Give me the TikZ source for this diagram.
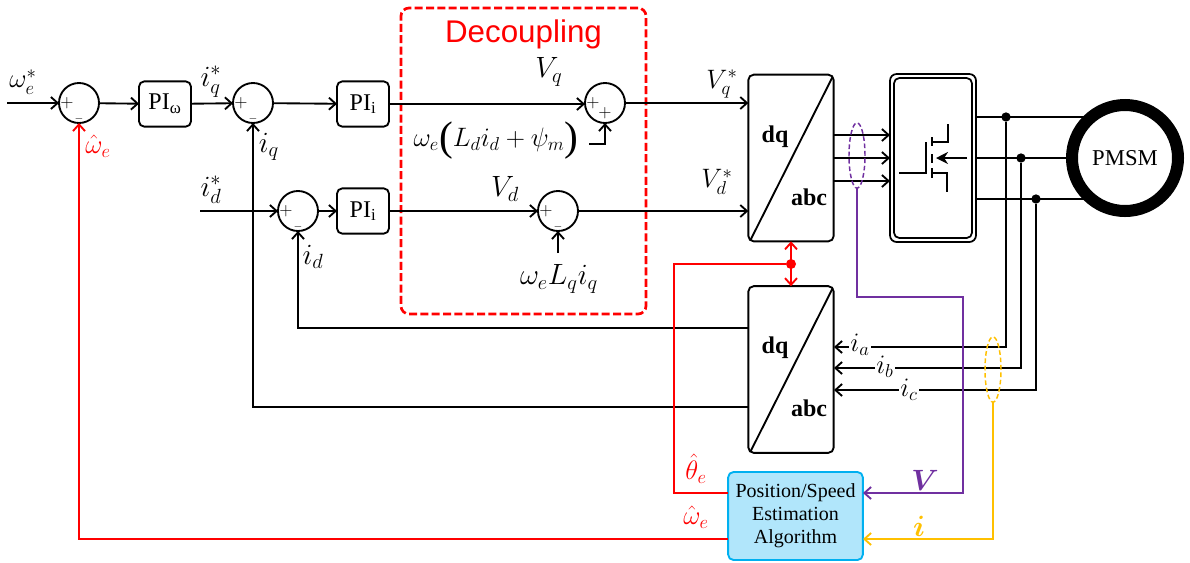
\documentclass[tikz,border=0pt]{standalone}
\usepackage{fix-cm}
\usepackage{fontspec}
\setmainfont{Liberation Serif}
\newfontfamily\decofont{Liberation Sans}
\usetikzlibrary{positioning,shapes.geometric,arrows.meta}
\definecolor{purp}{HTML}{7030A0}
\definecolor{yell}{HTML}{FFC000}
\definecolor{skyline}{HTML}{00B0F0}
\definecolor{skyfill}{HTML}{B1E6FB}
\newcommand{\fsize}[1]{\fontsize{#1}{#1}\selectfont}
\newcommand{\tallparen}[1]{\raisebox{-3pt}{\fsize{31}#1}}
\tikzset{
    >={Straight Barb[length=5pt,width=9pt,line width=1.4pt]},
    line/.style = { line width=1.4pt, },
    arrow/.style = { ->,line width=1.4pt, },
    redline/.style = { line width=1.1pt,red, },
    purpline/.style = { line width=1.1pt,purp, },
    yellline/.style = { line width=1.1pt,yell, },
    summer/.style = { circle,draw,line width=1.4pt,minimum size=30pt,inner sep=0,outer sep=0, },
    sign/.style = { inner sep=0,font=\fsize{13}, },
    pibox/.style = { draw,line width=1.4pt,rounded corners=4pt,minimum width=39pt,minimum height=34pt,inner sep=0,outer sep=0,font=\fsize{18}, },
    convbox/.style = { draw,line width=1.4pt,rounded corners=4pt,minimum width=64pt,minimum height=125pt,inner sep=0,outer sep=0, },
    conv/.style = { inner sep=0,font=\fsize{18}\bfseries, },
    write/.style = { inner sep=0,font=\fsize{20}, },
    big/.style = { inner sep=0,font=\fsize{22}, },
    wee/.style = { inner sep=0,font=\fsize{20}, },
    junction/.style = { circle,fill,inner sep=0,minimum size=7pt, },
    loopel/.style = { ellipse,draw,dash pattern=on 3.5pt off 2pt,line width=1.1pt,minimum width=12pt,minimum height=49pt,inner sep=0,outer sep=0, },
}
\newcommand{\sumblock}[4]{
    \node [summer] (#1) at (#2) {};
    \node [sign,xshift=-9pt] (#1p) at (#1) {$+$};
    \node [sign,#4] (#1m) at (#1) {#3};
}
\begin{document}
\begin{tikzpicture}[x=0.75pt,y=-0.75pt]

    \useasboundingbox (0,0) rectangle (1190,562);

    \node [draw=red,dash pattern=on 6pt off 2.5pt,line width=2pt,rounded corners=6pt,minimum width=183.75pt,minimum height=229.5pt] (decouple) at (523.5,161) {};
    \node [text=red,inner sep=0,font=\fsize{23.5}\decofont] (decoupletxt) at (523.5,34) {Decoupling};

    % summing points
    \sumblock{sumw}{79,103}{$-$}{yshift=-11.5pt,font=\fsize{8}}
    \sumblock{sumq}{253,103}{$-$}{yshift=-11.5pt,font=\fsize{8}}
    \sumblock{sumd}{298,211}{$-$}{yshift=-11.5pt,font=\fsize{8}}
    \sumblock{sumvq}{605,103}{$+$}{yshift=-7.5pt}
    \sumblock{sumvd}{558,211}{$-$}{yshift=-11.5pt,font=\fsize{8}}

    \node [pibox] (piw) at (165,104) {PI\textsubscript{ω}};
    \node [pibox] (piq) at (363,104) {PI\textsubscript{i}};
    \node [pibox] (pid) at (363,211) {PI\textsubscript{i}};

    \node [convbox] (dqa) at (791,158) {};
    \draw [line] (dqa.south west) ++(2,-1) -- ([shift={(-1,2)}]dqa.north east);
    \node [conv] (dqatop) at (775,137) {dq};
    \node [conv] (dqabot) at (809,197) {abc};

    \node [convbox] (dqb) at (791,369.5) {};
    \draw [line] (dqb.south west) ++(2,-1) -- ([shift={(-1,2)}]dqb.north east);
    \node [conv] (dqbtop) at (775,348) {dq};
    \node [conv] (dqbbot) at (809,408) {abc};

    % inverter
    \node [draw,line width=1.3pt,rounded corners=5pt,minimum width=64.5pt,minimum height=126pt,outer sep=0] (inv) at (933,158) {};
    \node [draw,line width=1.3pt,rounded corners=4pt,minimum width=58.5pt,minimum height=120pt] (invin) at (933,158) {};
    \draw [line] (899,173) -- (926,173) -- (926,142);
    \draw [line,line width=1.7pt] (932,137) -- (932,146);
    \draw [line,line width=1.7pt] (932,154) -- (932,163);
    \draw [line,line width=1.7pt] (932,168) -- (932,178);
    \draw [line] (932,142) -- (948,142) -- (948,124);
    \draw [line] (932,173) -- (947,173) -- (947,192);
    \draw [line,-{Stealth[length=9pt,width=9pt]}] (967,158) -- (936,158);

    \node [circle,draw,line width=9pt,minimum size=79.5pt,inner sep=0,outer sep=0,font=\fsize{17}] (pmsm) at (1125,158) {PMSM};

    \node [draw=skyline,fill=skyfill,line width=1.4pt,rounded corners=4pt,minimum width=101pt,minimum height=66pt,inner sep=0,outer sep=0,align=center,font=\fontsize{15}{17.3}\selectfont] (est) at (795.5,516) {Position/Speed\\Estimation\\Algorithm};

    \coordinate (wref) at (7,103);
    \coordinate (idref) at (200,211);
    \coordinate (qterm) at (589,144);
    \coordinate (dterm) at (558,253);
    \coordinate (ga) at (834,135);
    \coordinate (gb) at (834,158);
    \coordinate (gc) at (834,181);
    \coordinate (ia) at (834,347);
    \coordinate (ib) at (834,368);
    \coordinate (ic) at (834,390);
    \coordinate (feedd) at (748,328);
    \coordinate (feedq) at (748,407);
    \coordinate (estth) at (728,493);
    \coordinate (estom) at (728,539);
    \coordinate (estv) at (863,493);
    \coordinate (esti) at (863,539);

    % forward path
    \draw [arrow] (wref) -- (sumw);
    \draw [arrow] (sumw) -- (piw);
    \draw [arrow] (piw) -- (sumq);
    \draw [arrow] (sumq) -- (piq);
    \draw [arrow] (idref) -- (sumd);
    \draw [arrow] (sumd) -- (pid);
    \draw [arrow] (piq.east) -- (piq.east -| sumvq.west);
    \draw [arrow] (pid) -- (sumvd);
    \draw [arrow] (qterm) -| (sumvq.south);
    \draw [arrow] (dterm) -- (sumvd.south);
    \draw [arrow,line width=1.1pt] (sumvq.east) -- (sumvq.east -| dqa.west);
    \draw [arrow,line width=1.1pt] (sumvd.east) -- (sumvd.east -| dqa.west);
    \draw [arrow] (ga) -- (ga -| inv.west);
    \draw [arrow] (gb) -- (gb -| inv.west);
    \draw [arrow] (gc) -- (gc -| inv.west);

    % motor phases
    \draw [line] (pmsm.129 -| inv.east) -- (pmsm.129);
    \draw [line] (inv.east) -- (pmsm.west);
    \draw [line] (pmsm.231 -| inv.east) -- (pmsm.231);
    \node [junction] (ja) at (1006,117) {};
    \node [junction] (jb) at (1021,158) {};
    \node [junction] (jc) at (1036,199) {};
    \draw [arrow] (ja) |- (ia);
    \draw [arrow] (jb) |- (ib);
    \draw [arrow] (jc) |- (ic);

    % current feedback
    \draw [arrow] (feedd) -| (sumd.south);
    \draw [arrow] (feedq) -| (sumq.south);

    % estimator signals
    \node [loopel,draw=purp] (vloop) at (857,155.5) {};
    \node [loopel,draw=yell] (iloop) at (993,369.5) {};
    \draw [purpline,->] (vloop.south) |- (963,297) |- (estv);
    \draw [yellline,->] (iloop.south) |- (esti);
    \node [junction,red,minimum size=7.5pt] (jred) at (791,264) {};
    \draw [redline] (estth) -- (674,493) |- (jred);
    \draw [redline,<->,line width=1.3pt] (dqa.south) -- (dqb.north);
    \draw [redline,->,line width=1.4pt] (estom) -| (sumw.south);

    % labels
    \node [write] (lwref) at (23,82) {$\omega_e^{*}$};
    \node [big] (liq) at (211,82) {$i_q^{*}$};
    \node [big] (lid) at (211,190) {$i_d^{*}$};
    \node [big] (lfq) at (269,147) {$i_q$};
    \node [big] (lfd) at (313,257) {$i_d$};
    \node [big] (lvq) at (549,72) {$V_q$};
    \node [big] (lvd) at (505,189) {$V_d$};
    \node [write] (lvqs) at (722,84) {$V_q^{*}$};
    \node [write] (lvds) at (717,182) {$V_d^{*}$};
    \node [write] (lqterm) at (496,141) {$\omega_e\tallparen{(}L_d i_d+\psi_m\tallparen{)}$};
    \node [big] (ldterm) at (559,279) {$\omega_e L_q i_q$};
    \node [write,text=red] (lwhat) at (98,146) {$\hat\omega_e$};
    \node [write,text=red] (lthat) at (696,469) {$\hat\theta_e$};
    \node [write,text=red] (lwest) at (696,517) {$\hat\omega_e$};
    \node [big,text=purp,font=\fsize{22}\boldmath] (lv) at (925,480) {$V$};
    \node [big,text=yell,font=\fsize{22}\boldmath] (li) at (919,526) {$i$};
    \node [wee,fill=white,inner xsep=1pt] (lia) at (860,345) {$i_a$};
    \node [wee,fill=white,inner xsep=1pt] (lib) at (885,367) {$i_b$};
    \node [wee,fill=white,inner xsep=1pt] (lic) at (909,390) {$i_c$};

\end{tikzpicture}
\end{document}
